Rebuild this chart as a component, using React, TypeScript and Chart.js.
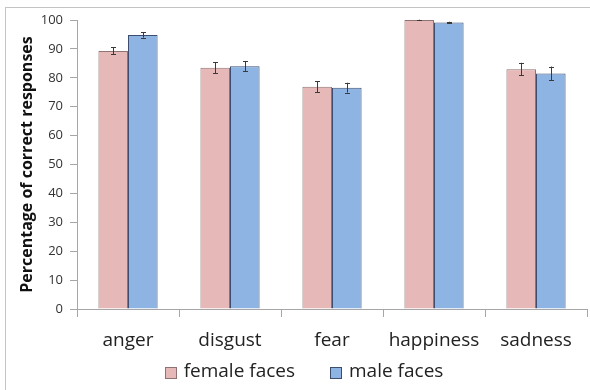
import React, { useEffect, useRef } from "react";
import { Chart, registerables } from "chart.js";

Chart.register(...registerables);

const categories = ["anger", "disgust", "fear", "happiness", "sadness"];
const femaleValues = [89.3, 83.5, 76.9, 100.0, 83.0];
const maleValues = [94.8, 84.0, 76.6, 99.1, 81.5];
const femaleErrors = [1.2, 1.9, 1.9, 0.1, 2.2];
const maleErrors = [0.9, 1.7, 1.7, 0.3, 2.4];
const seriesNames = ["female faces", "male faces"];
const yTitle = "Percentage of correct responses";

const FONT = "'Open Sans', 'Liberation Sans', sans-serif";

const errorBarPlugin = {
  id: "errorBars",
  afterDatasetsDraw(chart: any) {
    const ctx = chart.ctx;
    const yScale = chart.scales.y;
    const errs = [femaleErrors, maleErrors];
    ctx.save();
    ctx.strokeStyle = "#3a3a3a";
    ctx.lineWidth = 1;
    chart.data.datasets.forEach((ds: any, di: number) => {
      const meta = chart.getDatasetMeta(di);
      meta.data.forEach((el: any, i: number) => {
        const v = ds.data[i];
        const e = errs[di][i];
        const x = Math.round(el.x) + 0.5;
        const yTop = yScale.getPixelForValue(v + e);
        const yBot = yScale.getPixelForValue(v - e);
        ctx.beginPath();
        ctx.moveTo(x, yTop);
        ctx.lineTo(x, yBot);
        ctx.moveTo(x - 2.5, Math.round(yTop) + 0.5);
        ctx.lineTo(x + 2.5, Math.round(yTop) + 0.5);
        ctx.moveTo(x - 2.5, Math.round(yBot) + 0.5);
        ctx.lineTo(x + 2.5, Math.round(yBot) + 0.5);
        ctx.stroke();
      });
    });
    ctx.restore();
  },
};

const customLegendPlugin = {
  id: "customLegend",
  afterDraw(chart: any) {
    const ctx = chart.ctx;
    const datasets = chart.data.datasets;
    ctx.save();
    ctx.font = `19px ${FONT}`;
    ctx.textBaseline = "middle";
    const box = 11;
    const textGap = 8;
    const itemGap = 35;
    const widths = datasets.map((ds: any) => box + textGap + ctx.measureText(ds.label).width);
    const total = widths.reduce((a: number, b: number) => a + b, 0) + itemGap * (datasets.length - 1);
    let x = chart.width / 2 + 9 - total / 2;
    const cy = 372;
    datasets.forEach((ds: any, i: number) => {
      ctx.fillStyle = ds.backgroundColor;
      ctx.strokeStyle = ds.borderColor;
      ctx.lineWidth = 1;
      ctx.fillRect(Math.round(x) + 0.5, Math.round(cy - box / 2) + 0.5, box, box);
      ctx.strokeRect(Math.round(x) + 0.5, Math.round(cy - box / 2) + 0.5, box, box);
      ctx.fillStyle = "#222";
      ctx.fillText(ds.label, x + box + textGap, cy);
      x += widths[i] + itemGap;
    });
    ctx.restore();
  },
};

export default function App() {
  const ref = useRef<HTMLCanvasElement | null>(null);

  useEffect(() => {
    if (!ref.current) return;
    const chart = new Chart(ref.current, {
      type: "bar",
      data: {
        labels: categories,
        datasets: [
          {
            label: seriesNames[0],
            data: femaleValues,
            backgroundColor: "#E6B9B8",
            borderColor: "#8f7373",
            borderWidth: 1,
            categoryPercentage: 0.58,
            barPercentage: 1,
          },
          {
            label: seriesNames[1],
            data: maleValues,
            backgroundColor: "#8DB4E2",
            borderColor: "#3d4d70",
            borderWidth: 1,
            categoryPercentage: 0.58,
            barPercentage: 1,
          },
        ],
      },
      options: {
        animation: false,
        responsive: false,
        maintainAspectRatio: false,
        layout: { padding: { left: 0, top: 20, right: 3, bottom: 35 } },
        plugins: {
          tooltip: { enabled: false },
          legend: { display: false },
        },
        scales: {
          x: {
            grid: {
              display: true,
              drawOnChartArea: false,
              drawTicks: true,
              tickLength: 8,
              color: "#a6a6a6",
              offset: true,
            },
            border: { display: true, color: "#a6a6a6" },
            ticks: {
              color: "#222",
              padding: 12,
              font: { family: FONT, size: 19 },
              maxRotation: 0,
            },
            afterFit(scale: any) {
              scale.height = 46;
            },
          },
          y: {
            min: 0,
            max: 100,
            grid: {
              display: true,
              drawOnChartArea: false,
              drawTicks: true,
              tickLength: 7,
              color: "#a6a6a6",
            },
            border: { display: true, color: "#a6a6a6" },
            ticks: {
              stepSize: 10,
              color: "#333",
              padding: 7,
              font: { family: FONT, size: 13 },
            },
            title: {
              display: true,
              text: yTitle,
              color: "#111",
              font: { family: FONT, size: 16, weight: "bold" },
              padding: { top: 18, bottom: 2 },
            },
            afterFit(scale: any) {
              scale.width = 77;
            },
          },
        },
      },
      plugins: [errorBarPlugin, customLegendPlugin],
    });
    return () => chart.destroy();
  }, []);

  return (
    <div
      style={{
        position: "fixed",
        left: 0,
        top: 0,
        width: 590,
        height: 390,
        overflow: "hidden",
        background: "#fff",
      }}
    >
      <div
        style={{
          position: "absolute",
          left: 5,
          top: 7,
          width: 620,
          height: 420,
          border: "1px solid #c4c4c4",
        }}
      />
      <canvas
        ref={ref}
        width={590}
        height={390}
        style={{ position: "absolute", left: 0, top: 0, width: 590, height: 390 }}
      />
    </div>
  );
}
